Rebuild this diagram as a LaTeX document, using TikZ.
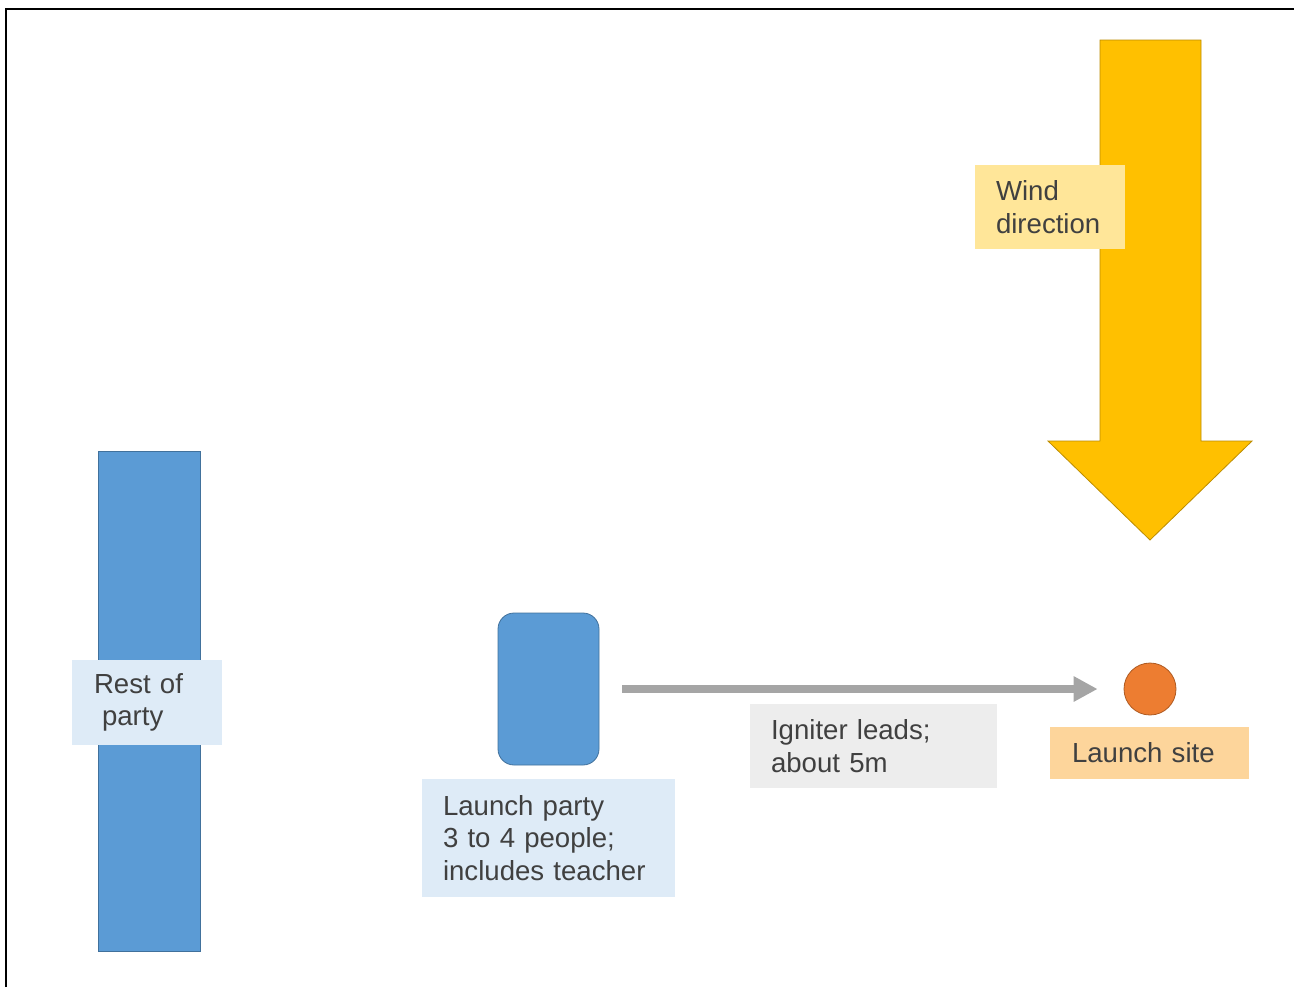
\documentclass[tikz,border=0pt]{standalone}
\usepackage{fontspec}
\setmainfont{Liberation Sans}
\usetikzlibrary{arrows.meta}

\definecolor{party blue}{HTML}{5B9BD5}
\definecolor{party edge}{HTML}{41719C}
\definecolor{party note}{HTML}{DEEBF7}
\definecolor{lead grey}{HTML}{A5A5A5}
\definecolor{lead note}{HTML}{EDEDED}
\definecolor{site orange}{HTML}{ED7D31}
\definecolor{site edge}{HTML}{AE5A21}
\definecolor{site note}{HTML}{FDD59B}
\definecolor{wind gold}{HTML}{FFC000}
\definecolor{wind edge}{HTML}{BC8C00}
\definecolor{wind note}{HTML}{FFE699}
\colorlet{note text}{black!75}

\def\windArrow{(1100,40) -- (1201,40) -- (1201,441) -- (1252,441) -- (1150,540)
  -- (1048,441) -- (1100,441) -- cycle}

\tikzset{
  group/.style={fill=party blue, draw=party edge, thin, inner sep=0pt},
  note/.style={inner xsep=10.5pt, inner ysep=0pt, align=left, text=note text,
    font=\fontsize{13.8}{16.3}\selectfont},
  lead/.style={draw=lead grey, line width=4pt, -{Triangle[length=12pt,width=12pt]},
    shorten <=11.5pt, shorten >=13pt}
  }
\tikzstyle{site}=[circle, fill=site orange, draw=site edge, thin, minimum size=26pt, inner sep=0pt]

\begin{document}
\begin{tikzpicture}[x=0.5pt, y=-0.5pt]
  \useasboundingbox (0,0) rectangle (1294,987);
  \draw[line width=1.2pt] (6,987) -- (6,9) -- (1294,9);

  % wind
  \fill[wind gold, draw=wind edge, thin] \windArrow;
  \node[note, fill=wind note, text width=54pt, minimum height=42pt] (windlbl) at (1050,207) {Wind\\direction};

  % rest of party
  \node[group, minimum width=51pt, minimum height=250pt] (rest) at (149,701) {};
  \node[note, fill=party note, text width=53pt, inner xsep=11pt, minimum height=42.5pt] (restlbl) at (147,702.5) {Rest of\\\hspace{4pt}party};

  % launch party and site
  \node[group, rounded corners=8pt, minimum width=50.5pt, minimum height=76pt] (party) at (548.5,689) {};
  \node[note, fill=party note, text width=105.5pt, minimum height=59pt] (partylbl) at (548.5,838) {Launch party\\3 to 4 people;\\includes teacher};
  \node[site] (site) at (1150,689) {};
  \node[note, fill=site note, text width=77.5pt, inner xsep=11pt, minimum height=26pt] (sitelbl) at (1149.5,753) {Launch site};

  \path[lead] (party) -- (site);
  \node[note, fill=lead note, text width=102.5pt, minimum height=42pt] (leadlbl) at (873.5,746) {Igniter leads;\\about 5m};
\end{tikzpicture}
\end{document}
